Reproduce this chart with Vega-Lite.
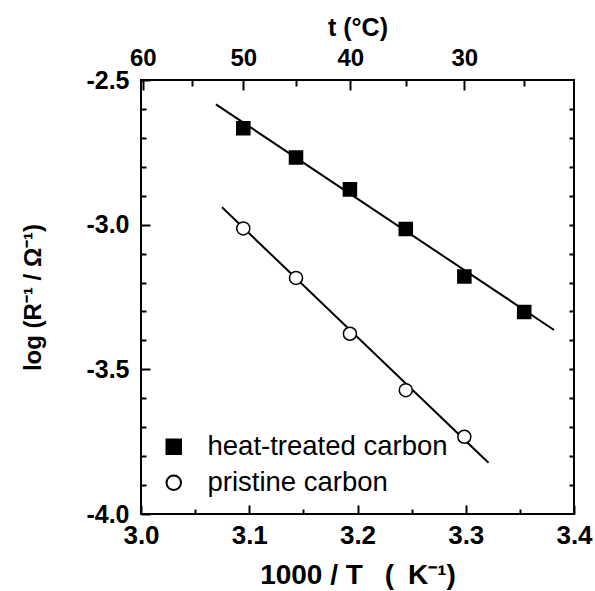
{
  "$schema": "https://vega.github.io/schema/vega-lite/v6.json",
  "width": 433,
  "height": 434,
  "autosize": "none",
  "padding": {"left": 141, "top": 80, "right": 21, "bottom": 77},
  "background": "white",
  "config": {
    "view": {"stroke": "black", "strokeWidth": 2},
    "axis": {
      "domain": false,
      "grid": false,
      "tickColor": "black",
      "tickWidth": 2,
      "labelFont": "Liberation Sans",
      "labelFontWeight": "bold",
      "labelFontSize": 25,
      "labelColor": "black",
      "labelFlush": false,
      "labelOverlap": false,
      "titleFont": "Liberation Sans",
      "titleFontWeight": "bold",
      "titleFontSize": 25,
      "titleColor": "black"
    },
    "legend": {
      "labelFont": "Liberation Sans",
      "labelFontSize": 27.5,
      "labelColor": "black",
      "labelLimit": 400,
      "symbolSize": 210,
      "symbolStrokeWidth": 2,
      "labelOffset": 20,
      "rowPadding": 7,
      "padding": 0
    }
  },
  "datasets": {
    "points": [
      {"series": "heat-treated carbon", "x": 3.0945, "y": -2.667},
      {"series": "heat-treated carbon", "x": 3.1432, "y": -2.768},
      {"series": "heat-treated carbon", "x": 3.1930, "y": -2.878},
      {"series": "heat-treated carbon", "x": 3.2446, "y": -3.015},
      {"series": "heat-treated carbon", "x": 3.2987, "y": -3.179},
      {"series": "heat-treated carbon", "x": 3.3540, "y": -3.302},
      {"series": "pristine carbon", "x": 3.0945, "y": -3.013},
      {"series": "pristine carbon", "x": 3.1432, "y": -3.184},
      {"series": "pristine carbon", "x": 3.1930, "y": -3.377},
      {"series": "pristine carbon", "x": 3.2446, "y": -3.572},
      {"series": "pristine carbon", "x": 3.2987, "y": -3.733}
    ],
    "fits": [
      {"series": "heat-treated carbon", "x": 3.0692, "y": -2.584},
      {"series": "heat-treated carbon", "x": 3.3816, "y": -3.364},
      {"series": "pristine carbon", "x": 3.0748, "y": -2.94},
      {"series": "pristine carbon", "x": 3.321, "y": -3.823}
    ]
  },
  "layer": [
    {
      "data": {"name": "fits"},
      "mark": {"type": "line", "color": "black", "strokeWidth": 2},
      "encoding": {
        "x": {
          "field": "x", "type": "quantitative",
          "scale": {"domain": [3.0, 3.4], "nice": false, "zero": false},
          "axis": {"orient": "bottom", "values": [3.0, 3.1, 3.2, 3.3, 3.4], "format": ".1f", "labelFontSize": 26, "tickSize": -9, "labelPadding": 17, "title": "1000 / T\u2002 (\u2002K⁻¹)", "titleFontSize": 28, "titlePadding": 13}
        },
        "y": {
          "field": "y", "type": "quantitative",
          "scale": {"domain": [-4.0, -2.5], "nice": false, "zero": false},
          "axis": {"orient": "left", "values": [-2.5, -3.0, -3.5, -4.0], "labelExpr": "replace(format(datum.value, '.1f'), '\u2212', '-')", "tickSize": -9, "labelPadding": 21, "title": "log (R⁻¹ / Ω⁻¹)", "titleFontSize": 24, "titlePadding": 40}
        },
        "detail": {"field": "series"}
      }
    },
    {
      "data": {"name": "points"},
      "mark": {"type": "point", "filled": true, "stroke": "black", "strokeWidth": 1.5, "size": 170, "opacity": 1},
      "encoding": {
        "x": {
          "field": "x", "type": "quantitative",
          "axis": {"orient": "bottom", "values": [3.05, 3.15, 3.25, 3.35], "labels": false, "tickSize": -5, "title": null}
        },
        "y": {
          "field": "y", "type": "quantitative",
          "axis": {"orient": "left", "values": [-2.6, -2.7, -2.8, -2.9, -3.1, -3.2, -3.3, -3.4, -3.6, -3.7, -3.8, -3.9], "labels": false, "tickSize": -5, "title": null}
        },
        "shape": {
          "field": "series", "type": "nominal",
          "scale": {"domain": ["heat-treated carbon", "pristine carbon"], "range": ["square", "circle"]},
          "legend": {"title": null, "orient": "none", "legendX": 19, "legendY": 353}
        },
        "fill": {
          "field": "series", "type": "nominal",
          "scale": {"domain": ["heat-treated carbon", "pristine carbon"], "range": ["black", "white"]},
          "legend": {"title": null, "orient": "none", "legendX": 19, "legendY": 353}
        }
      }
    },
    {
      "data": {"name": "points"},
      "mark": {"type": "point", "opacity": 0},
      "encoding": {
        "x": {
          "field": "x", "type": "quantitative",
          "axis": {"orient": "top", "values": [3.001651, 3.094538, 3.193358, 3.298697], "labelExpr": "format(1000 / datum.value - 273.15, '.0f')", "labelFontSize": 24, "tickSize": -10, "labelPadding": 20, "title": "t (°C)", "titlePadding": 6}
        },
        "y": {
          "field": "y", "type": "quantitative",
          "axis": {"orient": "right", "values": [-2.6, -2.7, -2.8, -2.9, -3.0, -3.1, -3.2, -3.3, -3.4, -3.5, -3.6, -3.7, -3.8, -3.9], "labels": false, "tickSize": -5, "title": null}
        }
      }
    },
    {
      "data": {"name": "points"},
      "mark": {"type": "point", "opacity": 0},
      "encoding": {
        "x": {
          "field": "x", "type": "quantitative",
          "axis": {"orient": "top", "values": [3.047387, 3.143171, 3.245173, 3.354016], "labels": false, "tickSize": -6, "title": null}
        },
        "y": {"field": "y", "type": "quantitative", "axis": null}
      }
    }
  ],
  "resolve": {"axis": {"x": "independent", "y": "independent"}}
}
